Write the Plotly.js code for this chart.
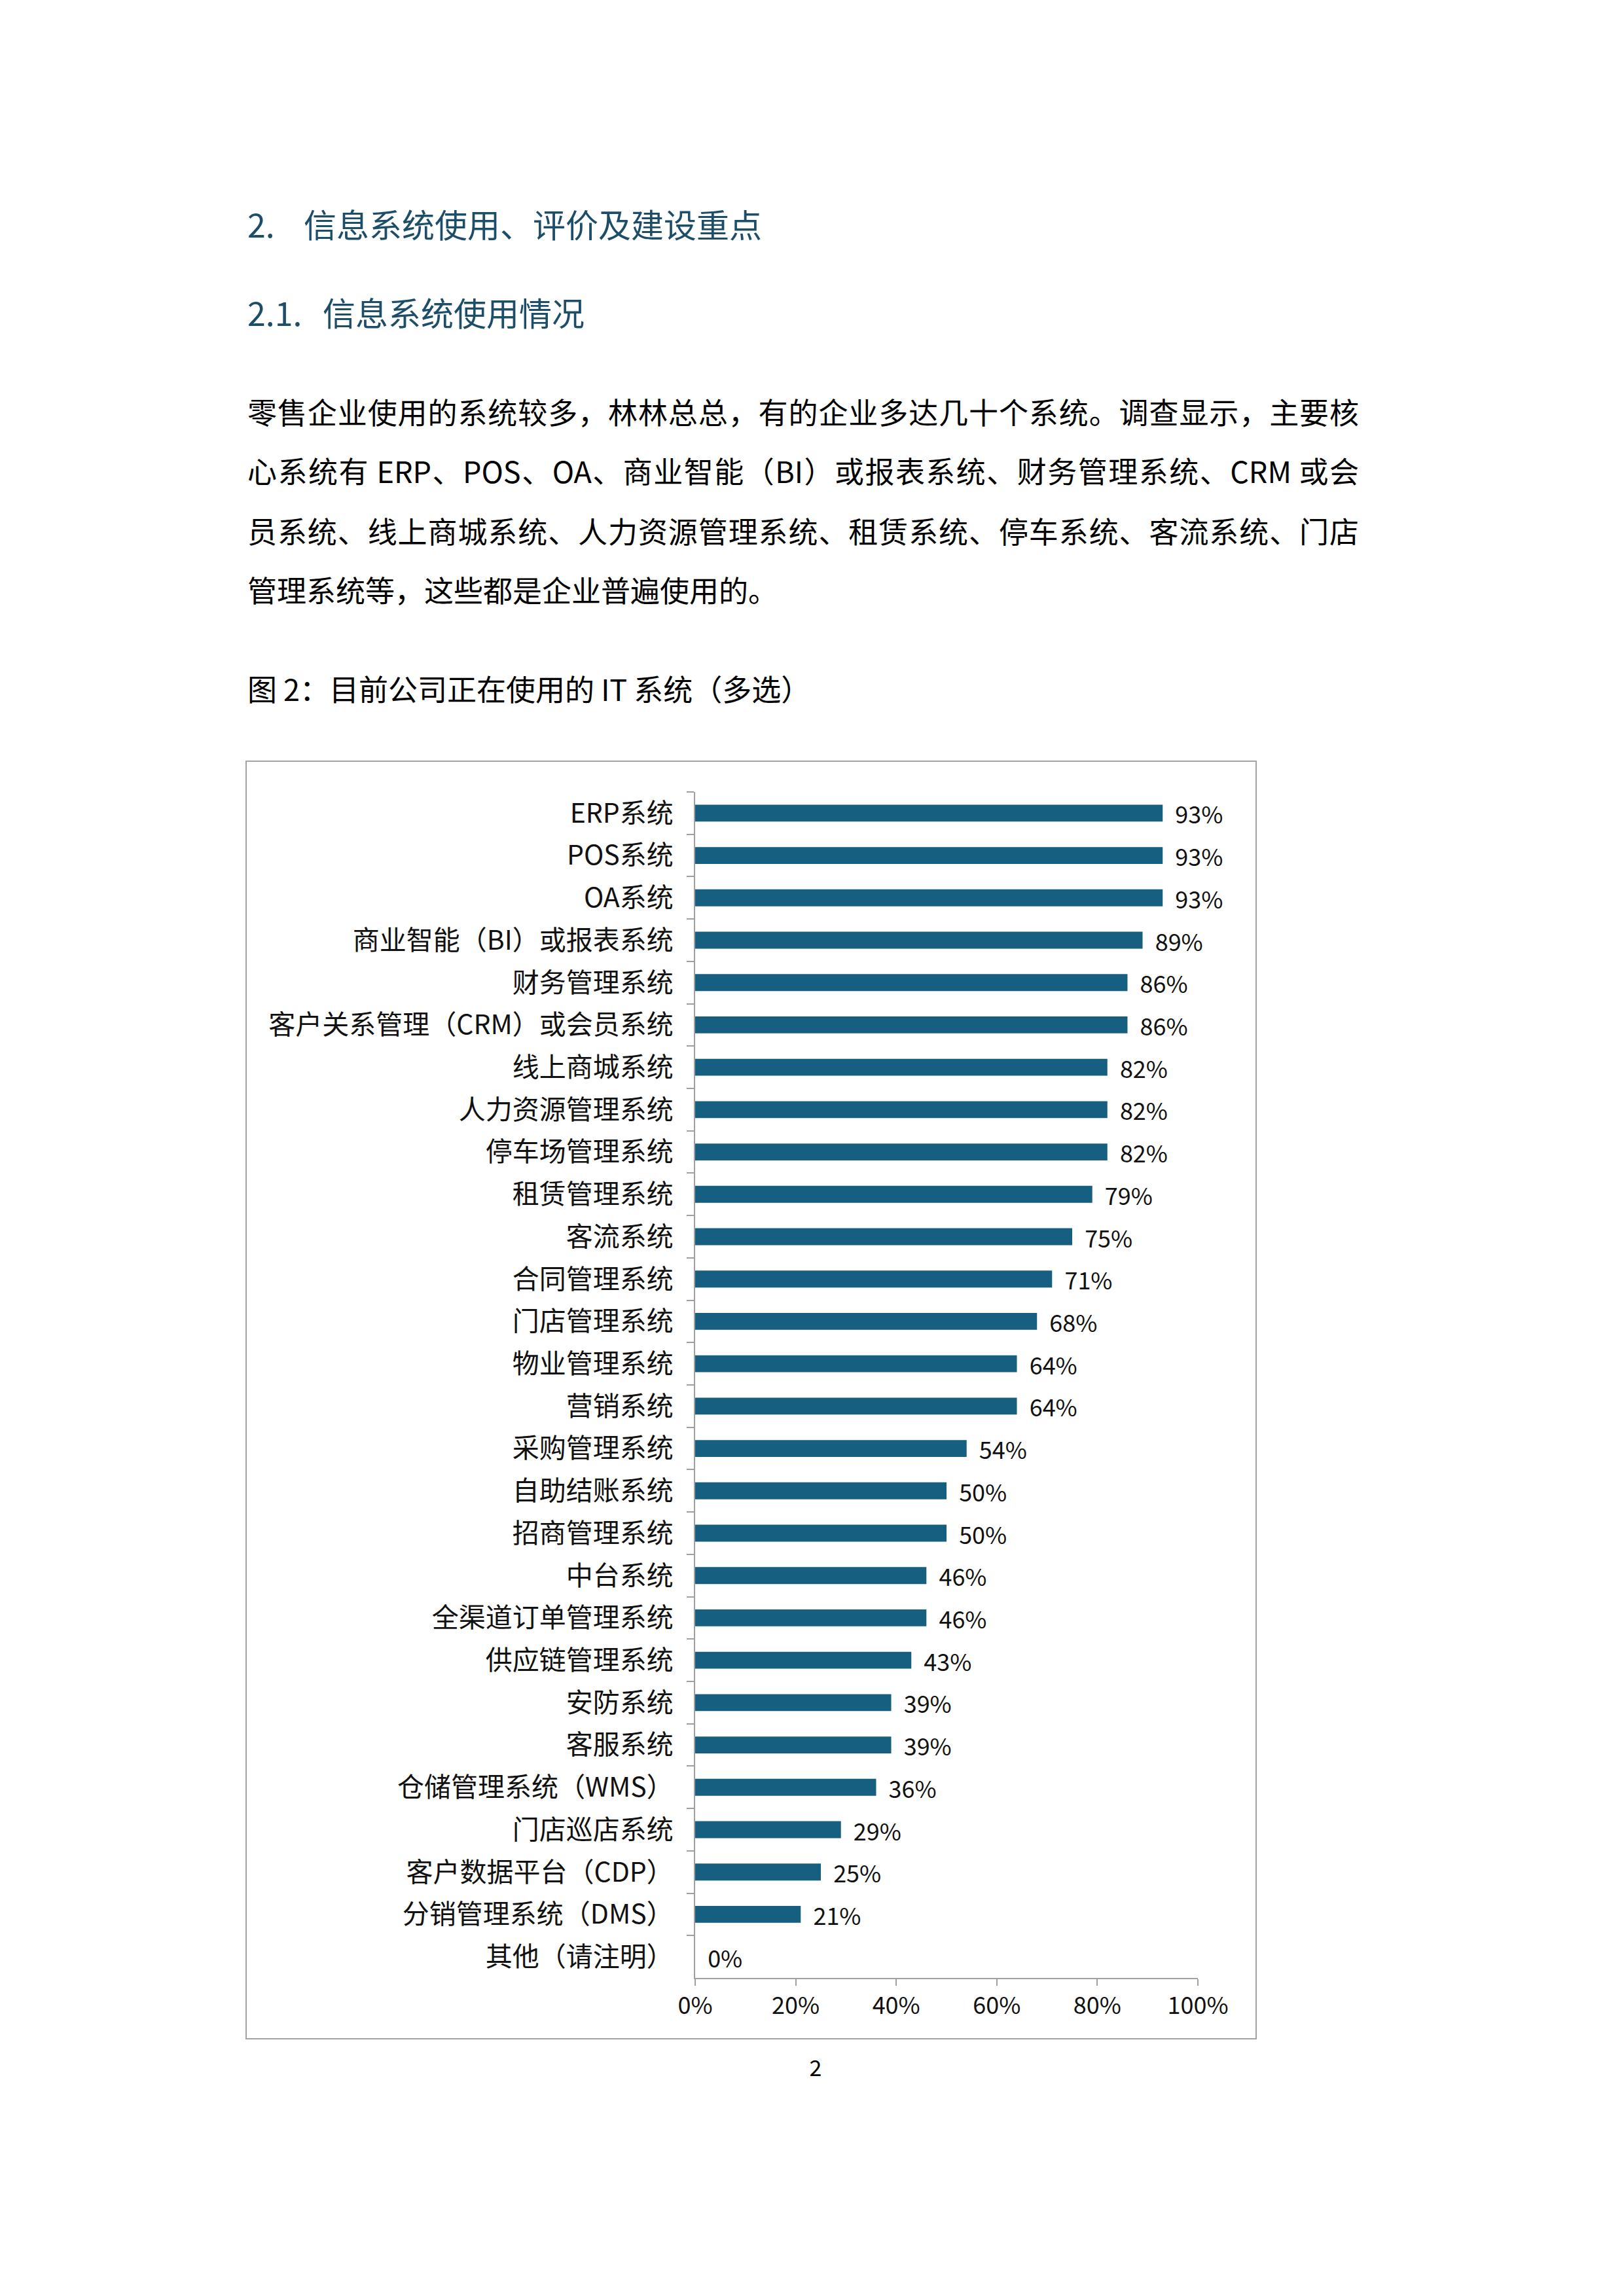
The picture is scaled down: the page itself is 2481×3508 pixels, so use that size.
<!DOCTYPE html>
<html>
<head>
<meta charset="utf-8">
<script src="https://cdn.plot.ly/plotly-3.0.1.min.js"></script>
<style>
  html, body { margin: 0; padding: 0; background: #fff; }
  body { width: 2481px; height: 3508px; position: relative; font-family: "Noto Sans CJK SC", sans-serif; color: #000; }
  .h { position: absolute; left: 378px; color: #1c4d69; font-size: 50px; line-height: 70px; white-space: nowrap; }
  .h .num { display: inline-block; }
  .p { position: absolute; left: 378px; width: 1698px; font-size: 45px; line-height: 60px; white-space: nowrap; }
  .p.j { text-align: justify; text-align-last: justify; }
  #chart { position: absolute; left: 375px; top: 1162px; width: 1545px; height: 1954px; box-sizing: border-box; border: 2px solid #a3a3a3; }
  #pageno { position: absolute; left: 1226px; width: 40px; top: 3134px; text-align: center; font-size: 34px; line-height: 48px; }
</style>
</head>
<body>
<div class="h" style="top:306px"><span class="num" style="width:86px">2.</span>信息系统使用、评价及建设重点</div>
<div class="h" style="top:441px"><span class="num" style="width:115px">2.1.</span>信息系统使用情况</div>
<div class="p j" style="top:599px">零售企业使用的系统较多，林林总总，有的企业多达几十个系统。调查显示，主要核</div>
<div class="p j" style="top:689px">心系统有 ERP、POS、OA、商业智能（BI）或报表系统、财务管理系统、CRM 或会</div>
<div class="p j" style="top:781px">员系统、线上商城系统、人力资源管理系统、租赁系统、停车系统、客流系统、门店</div>
<div class="p" style="top:871px">管理系统等，这些都是企业普遍使用的。</div>
<div class="p" style="top:1022px">图 2：目前公司正在使用的 IT 系统（多选）</div>
<div id="chart"></div>
<div id="pageno">2</div>
<script>
// categories, top to bottom as printed
const systems = [
  "ERP系统", "POS系统", "OA系统", "商业智能（BI）或报表系统", "财务管理系统",
  "客户关系管理（CRM）或会员系统", "线上商城系统", "人力资源管理系统", "停车场管理系统",
  "租赁管理系统", "客流系统", "合同管理系统", "门店管理系统", "物业管理系统", "营销系统",
  "采购管理系统", "自助结账系统", "招商管理系统", "中台系统", "全渠道订单管理系统",
  "供应链管理系统", "安防系统", "客服系统", "仓储管理系统（WMS）", "门店巡店系统",
  "客户数据平台（CDP）", "分销管理系统（DMS）", "其他（请注明）"
];
// share of companies using each system, percent
const usagePct = [
  93, 93, 93, 89, 86,
  86, 82, 82, 82,
  79, 75, 71, 68, 64, 64,
  54, 50, 50, 46, 46,
  43, 39, 39, 36, 29,
  25, 21, 0
];
const xTicks = [0, 20, 40, 60, 80, 100];

const BAR = "#175f80";
const AXIS = "#a0a0a0";
const FONT = "Noto Sans CJK SC, sans-serif";

const bars = {
  type: "bar",
  orientation: "h",
  x: usagePct,
  y: systems,
  marker: { color: BAR },
  text: usagePct.map((v) => "\u00a0\u00a0" + v + "%"),
  texttemplate: "%{text}",
  textposition: "outside",
  constraintext: "none",
  cliponaxis: false,
  textfont: { family: FONT, size: 36, color: "#111" },
  hoverinfo: "skip",
};

const layout = {
  width: 1541,
  height: 1950,
  margin: { l: 685, r: 88, t: 46, b: 92 },
  paper_bgcolor: "#fff",
  plot_bgcolor: "#fff",
  bargap: 0.6,
  showlegend: false,
  font: { family: FONT, color: "#111" },
  xaxis: {
    range: [0, 100],
    tickvals: xTicks,
    ticktext: xTicks.map((t) => t + "%"),
    showgrid: false,
    zeroline: false,
    showline: true,
    linecolor: AXIS,
    linewidth: 2,
    ticks: "outside",
    ticklen: 10,
    tickwidth: 2,
    tickcolor: AXIS,
    tickfont: { family: FONT, size: 36, color: "#111" },
    ticklabelstandoff: 0,
    fixedrange: true,
  },
  yaxis: {
    type: "category",
    autorange: "reversed",
    showgrid: false,
    zeroline: false,
    showline: true,
    linecolor: AXIS,
    linewidth: 2,
    ticks: "outside",
    tickson: "boundaries",
    ticklen: 11,
    tickwidth: 2,
    tickcolor: AXIS,
    tickfont: { family: FONT, size: 41, color: "#111" },
    ticklabelstandoff: 23,
    fixedrange: true,
  },
};

Plotly.newPlot("chart", [bars], layout, { staticPlot: true, displayModeBar: false });
</script>
</body>
</html>
